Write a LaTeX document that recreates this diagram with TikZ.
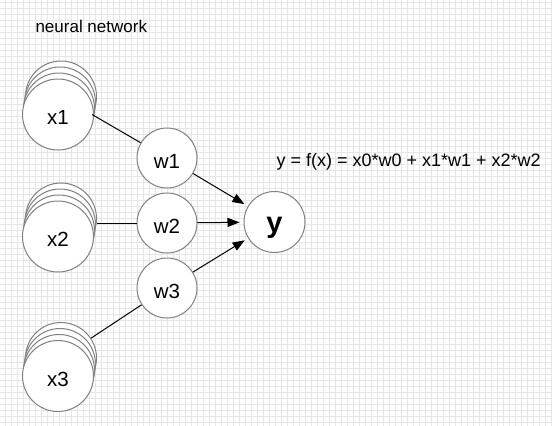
\documentclass[tikz,border=0pt]{standalone}
\usepackage{fontspec}
\setmainfont{Liberation Sans}
\usetikzlibrary{arrows.meta}
\definecolor{rim}{RGB}{128,128,128}
\definecolor{gridgray}{RGB}{230,230,230}
\begin{document}
\begin{tikzpicture}[x=1pt, y=-1pt, line join=round, >={Triangle[length=12pt,width=9pt]}]
 \tikzset{neuron/.style={circle, draw=rim, fill=white, line width=1pt, inner sep=0pt, minimum size=60pt, text height=20pt, text depth=0pt, font=\fontsize{20.5}{24}\selectfont},
  input/.style={neuron, minimum size=71pt},
  gridline/.style={gridgray, line width=0.8pt}}
 \useasboundingbox (0,0) rectangle (552,426);
 \fill[white] (0,0) rectangle (552,426);
 \foreach \i in {0,...,91} \draw[gridline] ({5.3+6*\i},0) -- ({5.3+6*\i},426);
 \foreach \i in {0,...,70} \draw[gridline] (0,{2+6*\i}) -- (552,{2+6*\i});
 \node[anchor=base west, font=\fontsize{17}{20}\selectfont] (title) at (32,32.3) {neural network};
 \node[anchor=base west, font=\fontsize{18}{22}\selectfont] (eq) at (273,166.7) {y = f(x) = x0*w0 + x1*w1 + x2*w2};
 % stacked inputs
 \foreach \n/\yy in {x1/114.5, x2/236.5, x3/376} {
  \foreach \k in {3,2,1} \node[input] (\n s\k) at ({58+\k},{\yy-6*\k}) {};
  \node[input] (\n) at (58,\yy) {\n};
 }
 \node[neuron] (w1) at (167,158) {w1};
 \node[neuron] (w2) at (167,223) {w2};
 \node[neuron] (w3) at (167,288) {w3};
 \node[neuron, minimum size=61pt, font=\fontsize{29}{32}\selectfont\bfseries] (y) at (274.5,222) {y};
 \draw[line width=1pt] (x1s3) -- (w1);
 \draw[line width=1pt] (w2 -| x2s3.east) -- (w2);
 \draw[line width=1pt] (x3s3) -- (w3);
 \foreach \w in {w1,w2,w3} \draw[->, line width=1pt, shorten >=4pt] (\w) -- (y);
\end{tikzpicture}
\end{document}
